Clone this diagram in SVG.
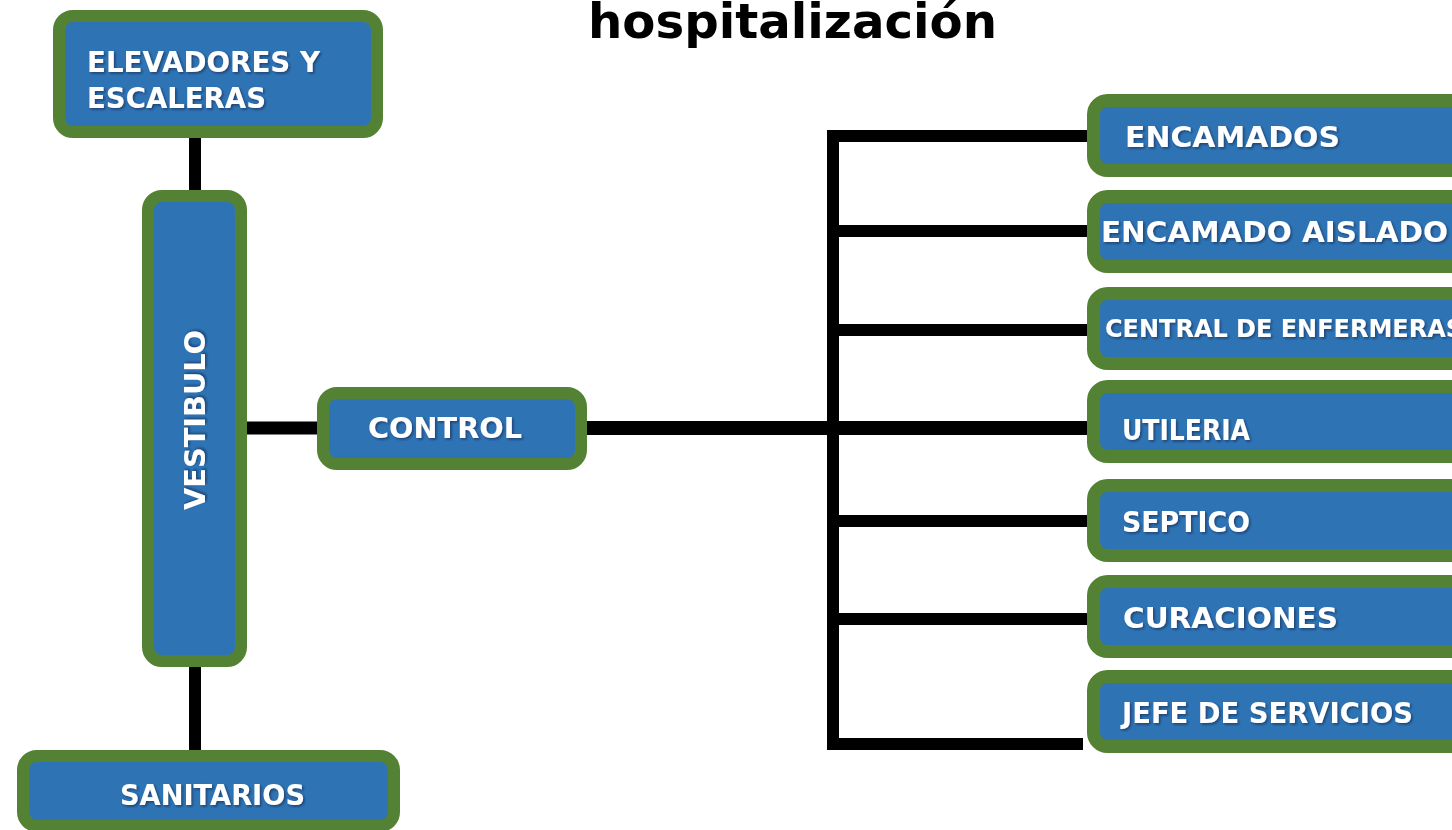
<svg xmlns="http://www.w3.org/2000/svg" width="1452" height="830" viewBox="0 0 1452 830">
<style>
.box{fill:#2E74B5;stroke:#548235;stroke-width:12}
.rbox{fill:#2E74B5;stroke:#548235;stroke-width:13}
.lbl{font-family:"DejaVu Sans",sans-serif;font-weight:bold;fill:#ffffff;font-size:29px;filter:url(#sh)}
.ln{stroke:#000;fill:none;stroke-linecap:butt}
.title{font-family:"DejaVu Sans",sans-serif;font-weight:bold;font-size:48px;fill:#000}
</style>
<defs>
<filter id="sh" x="-10%" y="-30%" width="120%" height="160%">
<feDropShadow dx="1.5" dy="1.5" stdDeviation="1" flood-color="#0d2440" flood-opacity="0.6"/>
</filter>
</defs>
<rect width="1452" height="830" fill="#ffffff"/>
<text class="title" x="588" y="38" textLength="409" lengthAdjust="spacingAndGlyphs">hospitalización</text>

<g id="connectors">
<line class="ln" x1="195" y1="128" x2="195" y2="198" stroke-width="12"/>
<line class="ln" x1="195" y1="660" x2="195" y2="758" stroke-width="12"/>
<line class="ln" x1="240" y1="428" x2="324" y2="428" stroke-width="13"/>
<line class="ln" x1="571" y1="428" x2="1095" y2="428" stroke-width="14"/>
<path class="ln" d="M1095,136 H833 V744 H1083" stroke-width="12" stroke-linejoin="miter"/>
<line class="ln" x1="833" y1="231" x2="1095" y2="231" stroke-width="12"/>
<line class="ln" x1="833" y1="330" x2="1095" y2="330" stroke-width="12"/>
<line class="ln" x1="833" y1="521" x2="1095" y2="521" stroke-width="12"/>
<line class="ln" x1="833" y1="619" x2="1095" y2="619" stroke-width="12"/>
</g>

<g id="elevadores">
<rect class="box" x="59" y="16" width="318" height="116" rx="14"/>
<text class="lbl" x="87" y="72" textLength="233" lengthAdjust="spacingAndGlyphs">ELEVADORES Y</text>
<text class="lbl" x="87" y="108" textLength="179" lengthAdjust="spacingAndGlyphs">ESCALERAS</text>
</g>

<g id="vestibulo">
<rect class="box" x="148" y="196" width="93" height="465" rx="14"/>
<text class="lbl" transform="translate(205,420) rotate(-90)" x="0" y="0" text-anchor="middle" textLength="180" lengthAdjust="spacingAndGlyphs">VESTIBULO</text>
</g>

<g id="control">
<rect class="box" x="323" y="393" width="258" height="71" rx="14"/>
<text class="lbl" x="368" y="438" textLength="154" lengthAdjust="spacingAndGlyphs">CONTROL</text>
</g>

<g id="sanitarios">
<rect class="box" x="23" y="756" width="371" height="70" rx="14"/>
<text class="lbl" x="120" y="805" textLength="185" lengthAdjust="spacingAndGlyphs">SANITARIOS</text>
</g>

<g id="encamados">
<rect class="rbox" x="1093.5" y="100.5" width="420" height="70" rx="14"/>
<text class="lbl" x="1125" y="147" textLength="215" lengthAdjust="spacingAndGlyphs">ENCAMADOS</text>
</g>

<g id="encamado-aislado">
<rect class="rbox" x="1093.5" y="196.5" width="420" height="70" rx="14"/>
<text class="lbl" x="1101" y="242" textLength="347" lengthAdjust="spacingAndGlyphs">ENCAMADO AISLADO</text>
</g>

<g id="central-enfermeras">
<rect class="rbox" x="1093.5" y="293.5" width="420" height="70" rx="14"/>
<text class="lbl" x="1105" y="337" style="font-size:24.5px" textLength="358" lengthAdjust="spacingAndGlyphs">CENTRAL DE ENFERMERAS</text>
</g>

<g id="utileria">
<rect class="rbox" x="1093.5" y="386.5" width="420" height="70" rx="14"/>
<text class="lbl" x="1122" y="440" textLength="128" lengthAdjust="spacingAndGlyphs">UTILERIA</text>
</g>

<g id="septico">
<rect class="rbox" x="1093.5" y="485.5" width="420" height="70" rx="14"/>
<text class="lbl" x="1122" y="532" textLength="128" lengthAdjust="spacingAndGlyphs">SEPTICO</text>
</g>

<g id="curaciones">
<rect class="rbox" x="1093.5" y="581.5" width="420" height="70" rx="14"/>
<text class="lbl" x="1123" y="628" textLength="215" lengthAdjust="spacingAndGlyphs">CURACIONES</text>
</g>

<g id="jefe-servicios">
<rect class="rbox" x="1093.5" y="676.5" width="420" height="70" rx="14"/>
<text class="lbl" x="1122" y="723" textLength="291" lengthAdjust="spacingAndGlyphs">JEFE DE SERVICIOS</text>
</g>
</svg>
